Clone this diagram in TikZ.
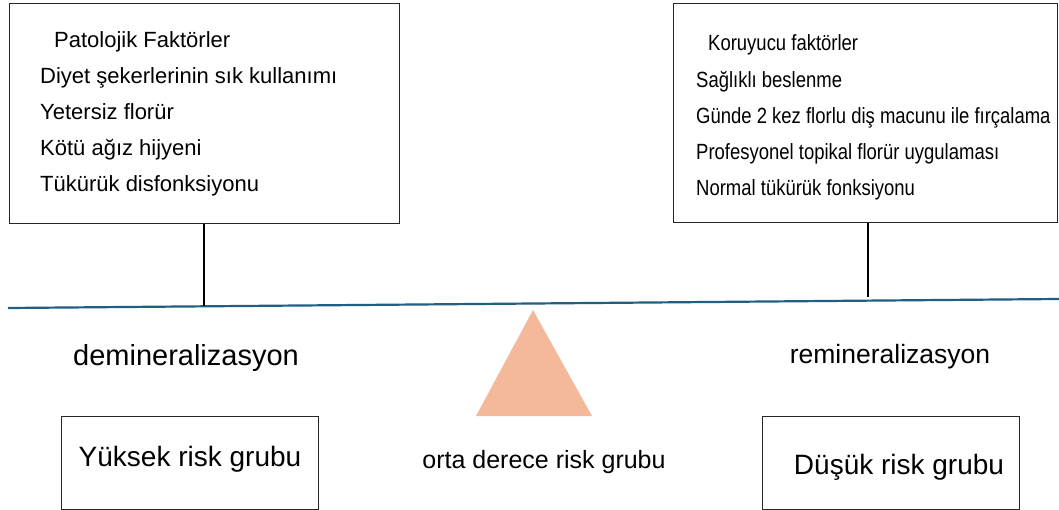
\documentclass[tikz,border=0pt]{standalone}
\usepackage{fontspec}
\setmainfont{Liberation Sans}
\newfontfamily\condensedsans[FakeStretch=0.84]{Liberation Sans}
\begin{document}
\begin{tikzpicture}[x=1pt,y=-1pt,
  frame/.style={draw=black!85,line width=1pt},
  item/.style={anchor=base west,inner sep=0pt,font=\fontsize{22}{26}\selectfont},
  narrowitem/.style={anchor=base west,inner sep=0pt,font=\condensedsans\fontsize{22}{26}\selectfont},
  label/.style={inner sep=0pt,anchor=base},
  stem/.style={draw=black,line width=1.6pt}]
\useasboundingbox (0,0) rectangle (1059,510);
\definecolor{beamblue}{RGB}{31,96,130}
\definecolor{fulcrum}{RGB}{244,184,154}

% factor boxes
\node[frame,minimum width=390pt,minimum height=220pt,inner sep=0pt] (left) at (204,114) {};
\node[frame,minimum width=384pt,minimum height=219pt,inner sep=0pt] (right) at (865,113) {};

\node[item] (l0) at (54,48) {Patolojik Faktörler};
\node[item] (l1) at (40,84) {Diyet şekerlerinin sık kullanımı};
\node[item] (l2) at (40,120) {Yetersiz florür};
\node[item] (l3) at (40,156) {Kötü ağız hijyeni};
\node[item] (l4) at (40,192) {Tükürük disfonksiyonu};

\node[narrowitem] (r0) at (708,51) {Koruyucu faktörler};
\node[narrowitem] (r1) at (696,88) {Sağlıklı beslenme};
\node[narrowitem] (r2) at (696,124) {Günde 2 kez florlu diş macunu ile fırçalama};
\node[narrowitem] (r3) at (696,160) {Profesyonel topikal florür uygulaması};
\node[narrowitem] (r4) at (696,196) {Normal tükürük fonksiyonu};

% beam of the balance
\coordinate (bl) at (8,308);
\coordinate (br) at (1059,299);
\draw[beamblue,line width=2.2pt] (bl) -- (br);
\coordinate (lfoot) at (204,306.3);
\coordinate (rfoot) at (868,297);
\draw[stem] (left.south -| lfoot) -- (lfoot);
\draw[stem] (right.south -| rfoot) -- (rfoot);

% fulcrum
\coordinate (apex) at (533,310);
\coordinate (bleft) at (476,416);
\coordinate (bright) at (592,416);
\fill[fulcrum] (apex) -- (bleft) -- (bright) -- cycle;

\node[label,font=\fontsize{29}{34}\selectfont] (demin) at (186,365) {demineralizasyon};
\node[label,font=\fontsize{26.5}{31}\selectfont] (remin) at (890,363) {remineralizasyon};
\node[label,font=\fontsize{25}{30}\selectfont] (mid) at (544,468) {orta derece risk grubu};

% risk group boxes
\node[frame,minimum width=257pt,minimum height=93pt,inner sep=0pt] (high) at (189.5,462.5) {};
\node[label,font=\fontsize{28}{33}\selectfont] (hight) at (190,466) {Yüksek risk grubu};
\node[frame,minimum width=257pt,minimum height=93pt,inner sep=0pt] (low) at (890.5,462.5) {};
\node[label,font=\fontsize{28}{33}\selectfont] (lowt) at (899,474) {Düşük risk grubu};
\end{tikzpicture}
\end{document}
